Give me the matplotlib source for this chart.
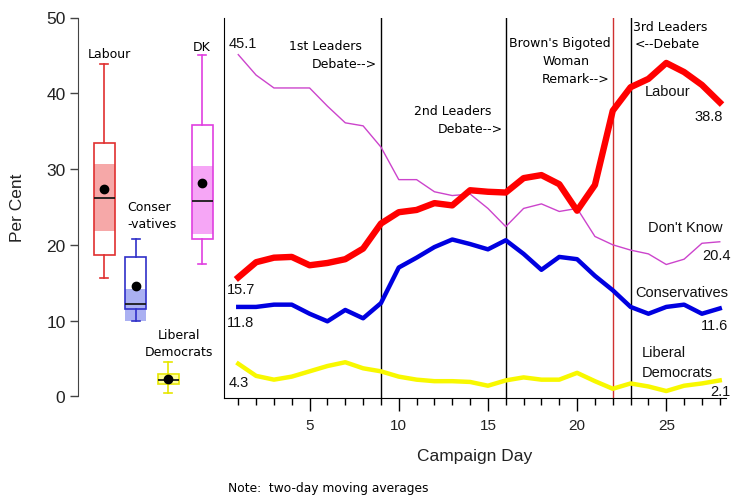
import matplotlib
matplotlib.use("Agg")
import matplotlib.pyplot as plt
from matplotlib.ticker import MultipleLocator, FixedLocator

# --- poll data: two-day moving averages by campaign day ---
days = list(range(1, 29))
labour = [15.7, 17.7, 18.3, 18.4, 17.3, 17.6, 18.1, 19.5, 22.8, 24.3, 24.6, 25.5, 25.2, 27.2,
          27.0, 26.9, 28.8, 29.2, 28.0, 24.5, 27.9, 37.7, 40.8, 41.9, 44.0, 42.8, 41.1, 38.8]
conservatives = [11.8, 11.8, 12.1, 12.1, 10.9, 9.9, 11.4, 10.3, 12.3, 17.0, 18.3, 19.7, 20.7, 20.1,
                 19.4, 20.6, 18.8, 16.7, 18.4, 18.1, 15.9, 14.0, 11.8, 10.9, 11.8, 12.1, 10.9, 11.6]
lib_dems = [4.3, 2.7, 2.2, 2.6, 3.3, 4.0, 4.5, 3.7, 3.3, 2.6, 2.2, 2.0, 2.0, 1.9,
            1.4, 2.1, 2.5, 2.2, 2.2, 3.1, 2.0, 1.0, 1.7, 1.3, 0.7, 1.4, 1.7, 2.1]
dont_know = [45.1, 42.4, 40.7, 40.7, 40.7, 38.3, 36.1, 35.7, 32.9, 28.6, 28.6, 27.0, 26.5, 26.7,
             24.8, 22.4, 24.8, 25.4, 24.4, 24.8, 21.1, 20.0, 19.3, 18.8, 17.4, 18.1, 20.2, 20.4]

# campaign events
event_days = [9, 16, 22, 23]

# --- summary box plots ---
box_labels = ["Labour", "Conser\n-vatives", "Liberal\nDemocrats", "DK"]
box_whislo = [15.6, 10.0, 0.5, 17.4]
box_q1 = [18.6, 11.5, 1.6, 20.7]
box_med = [26.2, 12.2, 2.2, 25.8]
box_q3 = [33.4, 18.4, 2.9, 35.8]
box_whishi = [43.8, 20.7, 4.5, 45.1]
box_mean = [27.4, 14.5, 2.3, 28.2]
band_lo = [21.8, 10.0, 1.7, 21.4]
band_hi = [30.6, 14.2, 2.8, 30.4]

ARIAL = "Liberation Sans"
SMALL = "DejaVu Sans"

W, H = 735, 502
fig = plt.figure(figsize=(W / 100, H / 100), dpi=100)
fig.patch.set_facecolor("white")


def px_box(x0, y_top, x1, y_bot):
    return [x0 / W, (H - y_bot) / H, (x1 - x0) / W, (y_bot - y_top) / H]


# ---------------- box-plot panel ----------------
axb = fig.add_axes(px_box(78, 18.5, 224, 397.3))
axb.set_xlim(0, 146)
axb.set_ylim(0, 50)
for s in ["top", "right", "bottom"]:
    axb.spines[s].set_visible(False)
axb.spines["left"].set_color("#444444")
axb.set_xticks([])
axb.yaxis.set_major_locator(MultipleLocator(10))
axb.tick_params(axis="y", length=6, width=1, color="#444444", pad=3,
                labelsize=12.5, labelcolor="#222222")
for lab in axb.get_yticklabels():
    lab.set_fontfamily(ARIAL)

box_pos = [26, 57.7, 90, 124]
box_w = 21
edge_cols = ["#e03030", "#3030c8", "#e6e600", "#e040e0"]
band_cols = ["#f6a8a8", "#aab0f2", "#ffff9a", "#f6a6f6"]

axb.bar(box_pos, [h - l for h, l in zip(band_hi, band_lo)], bottom=band_lo,
        width=box_w, color=band_cols, zorder=2, linewidth=0)

stats = []
for i in range(4):
    stats.append(dict(med=box_med[i], q1=box_q1[i], q3=box_q3[i], whislo=box_whislo[i],
                      whishi=box_whishi[i], mean=box_mean[i], fliers=[]))
for i in range(4):
    axb.bxp([stats[i]], positions=[box_pos[i]], widths=box_w, showmeans=True,
            showfliers=False, patch_artist=True, manage_ticks=False, capwidths=8,
            boxprops=dict(facecolor="none", edgecolor=edge_cols[i], linewidth=1.2),
            whiskerprops=dict(color=edge_cols[i], linewidth=1.2),
            capprops=dict(color=edge_cols[i], linewidth=1.2),
            medianprops=dict(color="#1a1a1a", linewidth=1.3),
            meanprops=dict(marker="o", markerfacecolor="black", markeredgecolor="black",
                           markersize=6))

bk = dict(fontsize=9, family=SMALL, va="center", linespacing=1.4)
axb.text(31.5, 45.3, box_labels[0], ha="center", **bk)
axb.text(49, 23.95, box_labels[1], ha="left", **bk)
axb.text(101, 7.1, box_labels[2], ha="center", **bk)
axb.text(124, 46.2, box_labels[3], ha="center", **bk)

axb.set_ylabel("Per Cent", family=ARIAL, fontsize=12.5, color="#222222")
axb.yaxis.set_label_coords(-0.36, 0.5)

# ---------------- time-series panel ----------------
ax = fig.add_axes(px_box(224, 18.5, 726, 399.3))
ax.set_xlim(0.2, 28.35)
ax.set_ylim(-0.26, 50)
ax.spines["top"].set_visible(False)
ax.spines["right"].set_visible(False)
ax.set_yticks([])
ax.xaxis.set_major_locator(FixedLocator([5, 10, 15, 20, 25]))
ax.xaxis.set_minor_locator(FixedLocator(days))
ax.tick_params(axis="x", which="major", length=9, width=1, pad=5, labelsize=11,
               labelcolor="#222222")
ax.tick_params(axis="x", which="minor", length=5, width=1)
for lab in ax.get_xticklabels():
    lab.set_fontfamily(ARIAL)

ev_cols = ["black", "black", "#d03030", "black"]
for d, c in zip(event_days, ev_cols):
    ax.axvline(d, color=c, lw=1.0, zorder=1)

ax.plot(days, dont_know, color="#cc44cc", lw=1.0, zorder=3)
ax.plot(days, lib_dems, color="#f8f800", lw=3.2, zorder=3, solid_joinstyle="round")
ax.plot(days, conservatives, color="#0000e0", lw=3.2, zorder=4, solid_joinstyle="round")
ax.plot(days, labour, color="#ff0000", lw=4.6, zorder=5, solid_joinstyle="round")

ax.set_xlabel("Campaign Day", family=ARIAL, fontsize=12.5, color="#222222", labelpad=12)

# event annotations
kw = dict(fontsize=9, family=SMALL, va="center")
ax.text(7.95, 46.35, "1st Leaders", ha="right", **kw)
ax.text(8.8, 43.9, "Debate-->", ha="right", **kw)
ax.text(15.2, 37.75, "2nd Leaders", ha="right", **kw)
ax.text(15.85, 35.3, "Debate-->", ha="right", **kw)
ax.text(19.05, 46.7, "Brown's Bigoted", ha="center", **kw)
ax.text(19.4, 44.3, "Woman", ha="center", **kw)
ax.text(21.8, 41.95, "Remark-->", ha="right", **kw)
ax.text(23.15, 48.85, "3rd Leaders", ha="left", **kw)
ax.text(23.2, 46.55, "<--Debate", ha="left", **kw)

# series labels and end values
lk = dict(fontsize=10.5, family=ARIAL, va="center", color="#111111")
ax.text(0.45, 46.6, f"{dont_know[0]:.1f}", ha="left", **lk)
ax.text(0.38, 14.2, f"{labour[0]:.1f}", ha="left", **lk)
ax.text(0.38, 9.85, f"{conservatives[0]:.1f}", ha="left", **lk)
ax.text(0.45, 1.85, f"{lib_dems[0]:.1f}", ha="left", **lk)

ax.text(25.07, 40.25, "Labour", ha="center", **lk)
ax.text(28.15, 37.0, f"{labour[-1]:.1f}", ha="right", **lk)
ax.text(28.15, 22.35, "Don't Know", ha="right", **lk)
ax.text(28.6, 18.6, f"{dont_know[-1]:.1f}", ha="right", **lk)
ax.text(28.5, 13.75, "Conservatives", ha="right", **lk)
ax.text(28.45, 9.4, f"{conservatives[-1]:.1f}", ha="right", **lk)
ax.text(23.6, 5.9, "Liberal", ha="left", **lk)
ax.text(23.6, 3.25, "Democrats", ha="left", **lk)
ax.text(28.62, 0.7, f"{lib_dems[-1]:.1f}", ha="right", clip_on=False, **lk)

fig.text(228 / W, 1 - 489 / H, "Note:  two-day moving averages", fontsize=8.8, family=SMALL,
         ha="left", va="center")

fig.savefig("out.png", dpi=100)
